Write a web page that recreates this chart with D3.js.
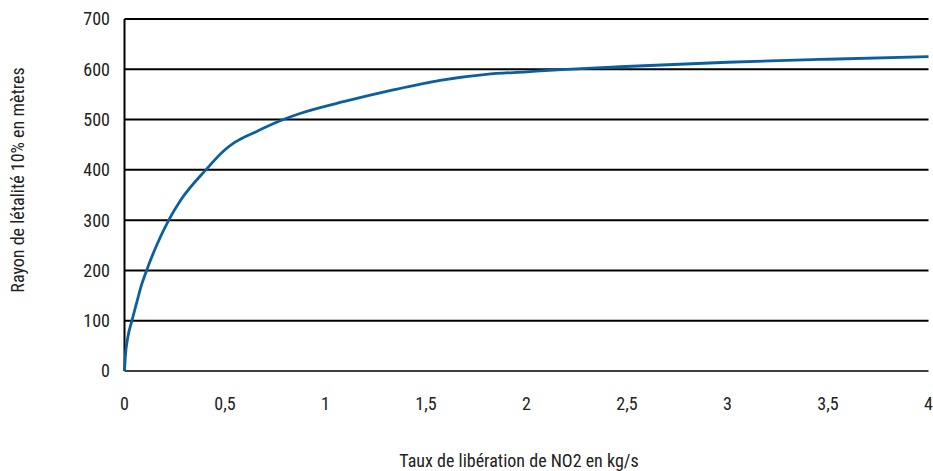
<!DOCTYPE html>
<html><head><meta charset="utf-8">
<script src="https://cdnjs.cloudflare.com/ajax/libs/d3/7.8.5/d3.min.js"></script>
<style>
html,body{margin:0;padding:0;background:#fff;}
svg text{font-family:"Liberation Sans Narrow","Arial Narrow","Roboto Condensed","Liberation Sans",sans-serif;fill:#222;}
</style></head>
<body><svg id="chart" width="933" height="471"></svg>
<script>
const rates = [0,0.004,0.017,0.037,0.064,0.08,0.11,0.16,0.22,0.28,0.40,0.50,0.55,0.65,0.79,0.873,1.105,1.337,1.57,1.8,2.0,2.2,2.465,3.0,3.5,4.0];
const radius = [0,28,68,100,141,165,200,250,300,340,398,440,455,475,500,512,537,559,578,590,595,600,605,614,620,625];
const xTicks = [0,0.5,1,1.5,2,2.5,3,3.5,4];
const yTicks = [0,100,200,300,400,500,600,700];
const xTitle = "Taux de libération de NO2 en kg/s";
const yTitle = "Rayon de létalité 10% en mètres";

const svg = d3.select("#chart");
const x = d3.scaleLinear().domain([0,4]).range([124.5,928.5]);
const y = d3.scaleLinear().domain([0,700]).range([371,19]);
const fmt = d => String(d).replace(".", ",");

// gridlines
svg.append("g").selectAll("line").data(yTicks).join("line")
  .attr("x1", x(0)).attr("x2", x(4))
  .attr("y1", d => y(d)).attr("y2", d => y(d))
  .attr("stroke", "#000").attr("stroke-width", d => d === 0 ? 1.5 : 2);

// y axis line
svg.append("line").attr("x1", x(0)).attr("x2", x(0)).attr("y1", y(700)).attr("y2", y(0))
  .attr("stroke", "#000").attr("stroke-width", 2);

// y tick labels
svg.append("g").selectAll("text").data(yTicks).join("text")
  .attr("x", 110).attr("y", d => y(d)).attr("dy", "0.36em")
  .attr("text-anchor", "end").attr("font-size", 18).text(d => d);

// x tick labels
svg.append("g").selectAll("text").data(xTicks).join("text")
  .attr("x", d => x(d)).attr("y", 410)
  .attr("text-anchor", "middle").attr("font-size", 18).text(fmt);

// titles
svg.append("text").attr("x", 519).attr("y", 467).attr("text-anchor", "middle")
  .attr("font-size", 18).text(xTitle);
svg.append("text").attr("transform", "translate(24,180) rotate(-90)")
  .attr("text-anchor", "middle").attr("font-size", 18).text(yTitle);

// curve
const data = rates.map((r,i) => [r, radius[i]]);
svg.append("path").datum(data)
  .attr("fill", "none").attr("stroke", "#0b5f9f").attr("stroke-width", 2.8)
  .attr("stroke-linejoin", "round")
  .attr("d", d3.line().x(d => x(d[0])).y(d => y(d[1])).curve(d3.curveMonotoneX));
</script></body></html>
